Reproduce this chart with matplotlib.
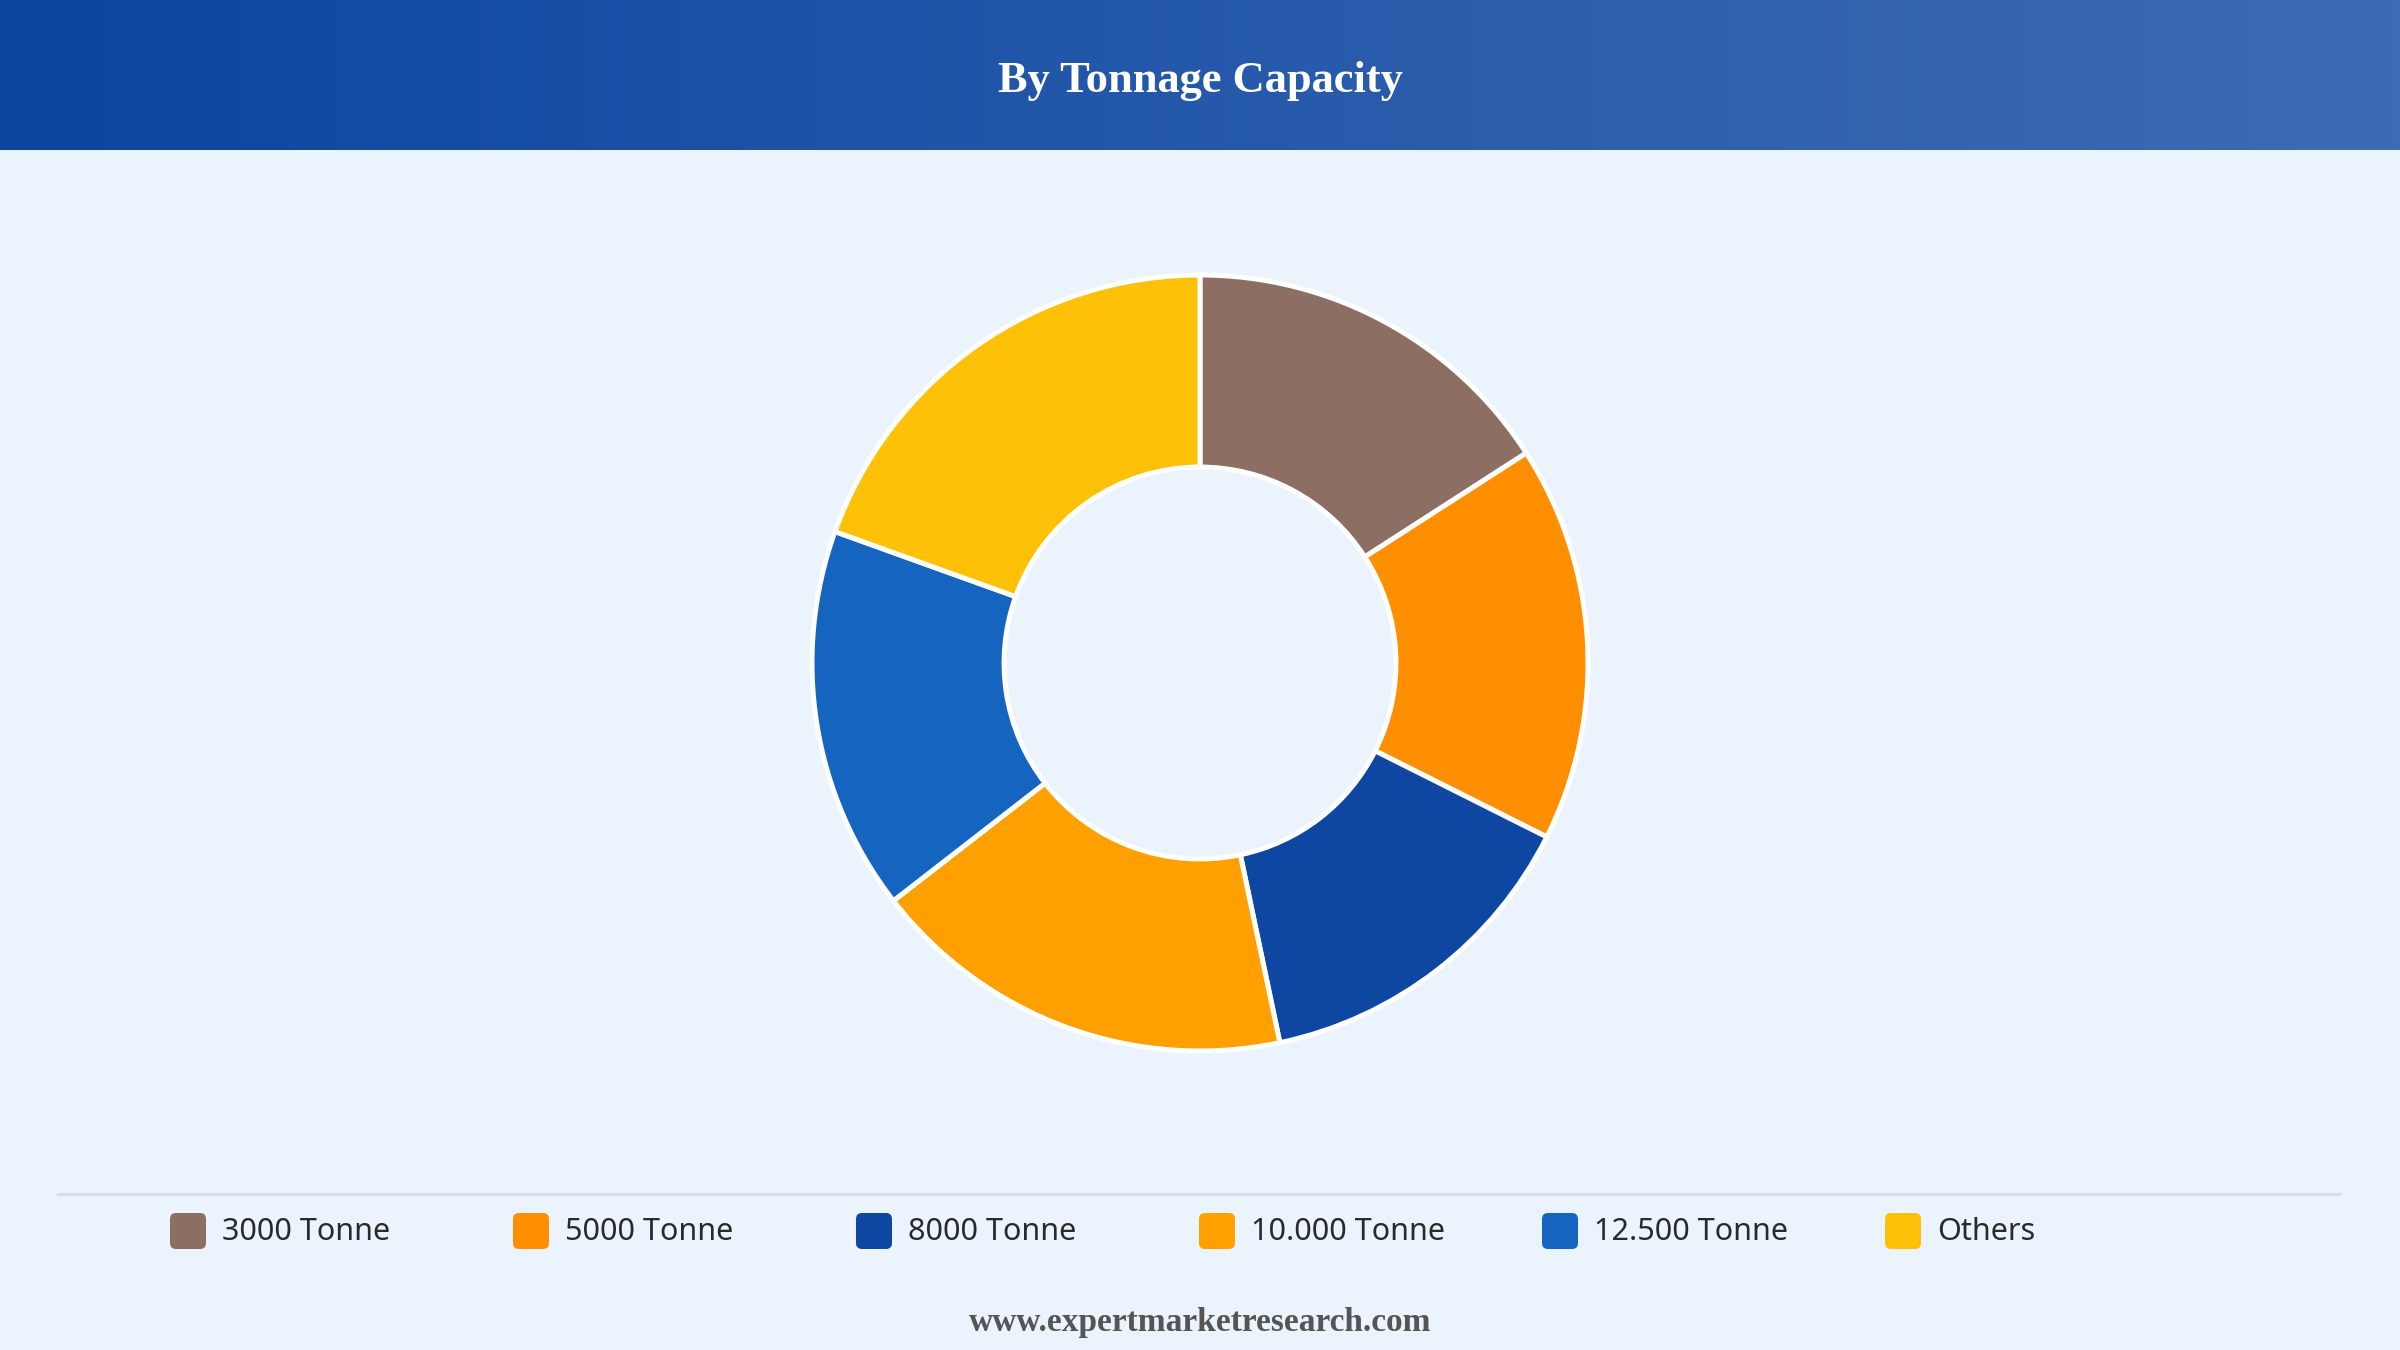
import matplotlib.pyplot as plt
import numpy as np
from matplotlib.patches import FancyBboxPatch

categories = ['3000 Tonne', '5000 Tonne', '8000 Tonne', '10.000 Tonne', '12.500 Tonne', 'Others']
shares = [15.9, 16.5, 14.3, 17.8, 16.0, 19.5]
colors = ['#8D6E63', '#FF8F00', '#0D47A1', '#FFA000', '#1565C0', '#FFC107']
title = 'By Tonnage Capacity'
source = 'www.expertmarketresearch.com'

W, H = 2400, 1350
bg = '#EBF3FC'
fig = plt.figure(figsize=(24, 13.5), dpi=100, facecolor=bg)

# full-figure overlay in pixel coordinates
base = fig.add_axes([0, 0, 1, 1])
base.set_xlim(0, W)
base.set_ylim(H, 0)
base.axis('off')

# header with horizontal gradient
c0 = np.array([0x0C, 0x45, 0xA0]) / 255
c1 = np.array([0x3E, 0x6C, 0xB4]) / 255
t = np.linspace(0, 1, 256)
grad = (c0[None, :] * (1 - t[:, None]) + c1[None, :] * t[:, None])[None, :, :]
base.imshow(grad, extent=[0, W, 150, 0], aspect='auto', zorder=1)
base.set_xlim(0, W)
base.set_ylim(H, 0)
base.text(W / 2, 81, title, color='white', fontsize=32, fontweight='bold',
          family='Liberation Serif', ha='center', va='center', zorder=2)

# separator line above legend
base.plot([58, 2340], [1194, 1194], color='#D9DEE4', lw=2.2, zorder=1)

# legend
x0, step = 170, 343
for i, (lab, col) in enumerate(zip(categories, colors)):
    x = x0 + i * step
    base.add_patch(FancyBboxPatch((x + 3, 1213 + 3), 30, 30,
                                  boxstyle='round,pad=3,rounding_size=6',
                                  fc=col, ec='none', zorder=2))
    base.text(x + 52, 1232, lab, fontsize=22, color='#2A2A2A', family='Noto Sans',
              fontweight='medium', ha='left', va='center', zorder=2)

base.text(W / 2, 1322, source, fontsize=24, fontweight='bold', color='#555555',
          family='Liberation Serif', ha='center', va='center', zorder=2)

# donut
cx, cy, r = 1200, 663, 388
ax = fig.add_axes([(cx - r) / W, (H - cy - r) / H, 2 * r / W, 2 * r / H])
ax.pie(shares, colors=colors, startangle=90, counterclock=False, radius=1,
       wedgeprops=dict(width=0.495, edgecolor='white', linewidth=3.6))
ax.set_xlim(-1, 1)
ax.set_ylim(-1, 1)
ax.set_aspect('equal')
for p in ax.patches:
    p.set_clip_on(False)
ax.axis('off')

plt.savefig('out.png', dpi=100, facecolor=bg)
